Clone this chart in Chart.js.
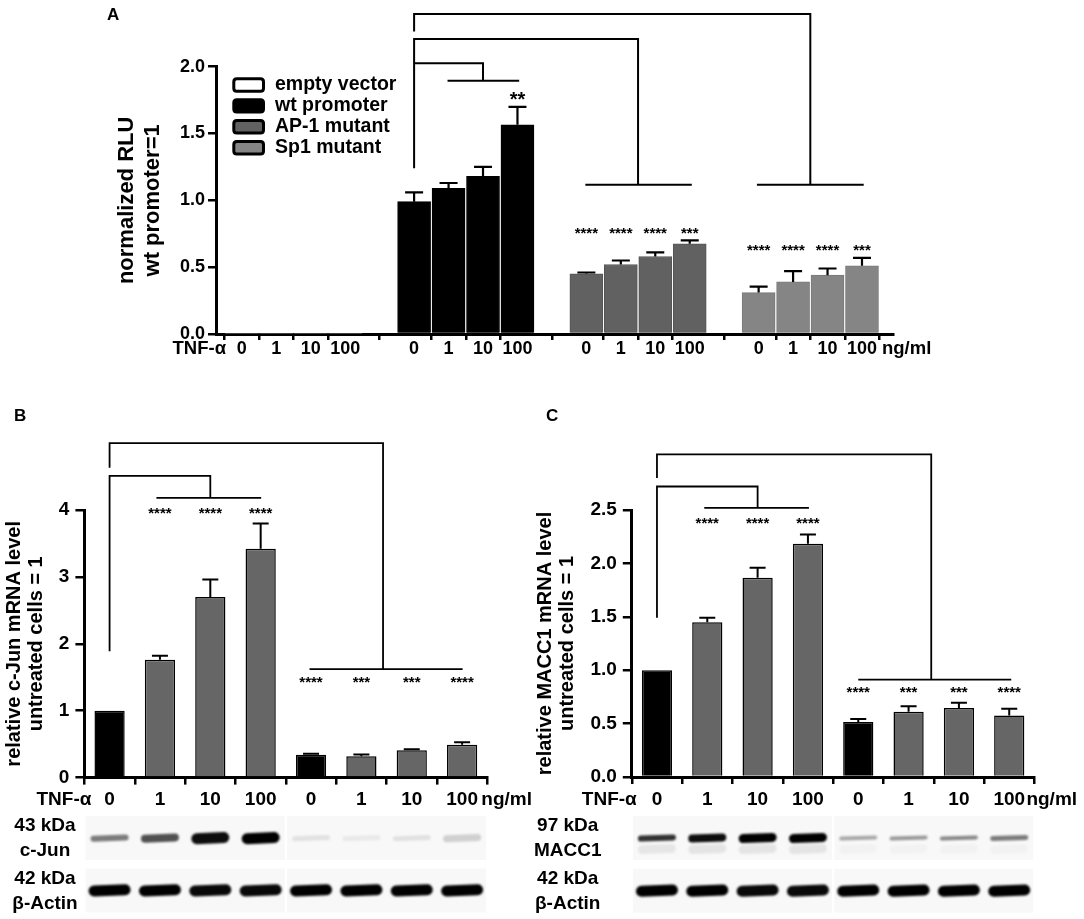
<!DOCTYPE html>
<html>
<head>
<meta charset="utf-8">
<title>TNF-alpha / c-Jun / MACC1</title>
<script src="https://cdn.jsdelivr.net/npm/chart.js@4.4.0/dist/chart.umd.min.js"></script>
<style>
  body { margin: 0; background: #fff; }
  .panel { position: absolute; }
  .panel canvas { display: block; }
  #boxA { left: 0; top: 0; width: 1084px; height: 370px; }
  #boxB { left: 0; top: 370px; width: 540px; height: 549px; }
  #boxC { left: 520px; top: 370px; width: 564px; height: 549px; }
</style>
</head>
<body>
<div class="panel" id="boxA"><canvas id="chartA"></canvas></div>
<div class="panel" id="boxB"><canvas id="chartB"></canvas></div>
<div class="panel" id="boxC"><canvas id="chartC"></canvas></div>

<script>
// ---------- donnees panneau A (luciferase) ----------
const dosesA = ['0', '1', '10', '100'];
const groupNamesA = ['empty vector', 'wt promoter', 'AP-1 mutant', 'Sp1 mutant'];
const emptyVector = [0, 0, 0, 0];
const wtPromoter = [0.99, 1.09, 1.18, 1.565];
const wtPromoterErr = [0.07, 0.04, 0.07, 0.135];
const ap1Mutant = [0.45, 0.52, 0.58, 0.675];
const ap1MutantErr = [0.01, 0.03, 0.03, 0.025];
const sp1Mutant = [0.31, 0.39, 0.44, 0.51];
const sp1MutantErr = [0.045, 0.08, 0.05, 0.06];
const starsWt = ['', '', '', '**'];
const starsAp1 = ['****', '****', '****', '***'];
const starsSp1 = ['****', '****', '****', '***'];
const starLevelA = [0, 1.75, 0.75, 0.62];
const yTicksA = [0, 0.5, 1.0, 1.5, 2.0];
// comparaisons (unites de donnees : position de barre, valeur y)
const bracketsA = [
  { from: 5, to: 16.5, top: 2.395, leftDrop: 2.2625, rightDrop: 1.1175, span: [14.95, 18.05] },
  { from: 5, to: 11.5, top: 2.2075, leftDrop: 1.24, rightDrop: 1.1175, span: [9.97, 13.06] },
  { from: 5, to: 7, top: 2.025, leftDrop: null, rightDrop: 1.895, span: [5.97, 8.05] }
];

// ---------- donnees panneaux B et C (qPCR + western) ----------
const dosesBC = ['0', '1', '10', '100', '0', '1', '10', '100'];
const cJun = [1.0, 1.76, 2.70, 3.42, 0.34, 0.32, 0.41, 0.49];
const cJunErr = [0, 0.06, 0.26, 0.38, 0.015, 0.025, 0.015, 0.04];
const cJunStars = ['', '****', '****', '****', '****', '***', '***', '****'];
const cJunStarLevel = [0, 3.94, 3.94, 3.94, 1.42, 1.42, 1.42, 1.42];
const yTicksB = [0, 1, 2, 3, 4];
const bracketsB = [
  { from: 0, to: 5.43, top: 5.0, leftDrop: 4.63, rightDrop: 1.62, span: [3.97, 7.01] },
  { from: 0, to: 2.0, top: 4.51, leftDrop: 1.89, rightDrop: 4.18, span: [0.93, 3.01] }
];

const macc1 = [1.0, 1.45, 1.865, 2.185, 0.515, 0.612, 0.645, 0.576];
const macc1Err = [0, 0.04, 0.095, 0.085, 0.028, 0.05, 0.05, 0.063];
const macc1Stars = ['', '****', '****', '****', '****', '***', '***', '****'];
const macc1StarLevel = [0, 2.37, 2.37, 2.37, 0.786, 0.786, 0.786, 0.786];
const yTicksC = [0, 0.5, 1.0, 1.5, 2.0, 2.5];
const bracketsC = [
  { from: 0, to: 5.45, top: 3.02, leftDrop: 2.80, rightDrop: 0.912, span: [4.0, 7.04] },
  { from: 0, to: 2.0, top: 2.72, leftDrop: 1.49, rightDrop: 2.52, span: [0.94, 3.02] }
];

// intensites des bandes (western blot), par piste
const cJunBand = [0.5, 0.68, 0.95, 1.0, 0.09, 0.06, 0.09, 0.16];
const cJunBandH = [6, 8, 11, 11, 5, 5, 5, 7];
const actinBandB = [1, 1, 0.97, 0.97, 1, 1, 1, 1];
const macc1Band = [0.8, 0.95, 1.0, 1.0, 0.32, 0.38, 0.45, 0.5];
const macc1BandH = [6, 8, 9, 9, 4, 4, 4, 5];
const macc1Smear = [0.07, 0.08, 0.08, 0.08, 0.025, 0.025, 0.025, 0.025];
const actinBandC = [1, 1, 0.97, 0.97, 1, 1, 1, 1];

// ---------- style ----------
const FONT = "'Liberation Sans', Arial, Helvetica, sans-serif";
Chart.defaults.font.family = FONT;
Chart.defaults.color = '#000';
Chart.defaults.animation = false;

const fillA = ['#ffffff', '#000000', '#616161', '#858585'];
const edgeA = ['#ffffff', '#000000', '#555555', '#7a7a7a'];
const toneBC = ['#000000', '#666666', '#666666', '#666666', '#000000', '#666666', '#666666', '#666666'];

function boxPath(ctx, x, y, w, h, r) {
  ctx.beginPath();
  ctx.moveTo(x + r, y);
  ctx.lineTo(x + w - r, y); ctx.quadraticCurveTo(x + w, y, x + w, y + r);
  ctx.lineTo(x + w, y + h - r); ctx.quadraticCurveTo(x + w, y + h, x + w - r, y + h);
  ctx.lineTo(x + r, y + h); ctx.quadraticCurveTo(x, y + h, x, y + h - r);
  ctx.lineTo(x, y + r); ctx.quadraticCurveTo(x, y, x + r, y);
  ctx.closePath();
}

function drawBracket(ctx, xs, ys, b) {
  const xl = xs.getPixelForValue(b.from), xr = xs.getPixelForValue(b.to);
  const yt = ys.getPixelForValue(b.top), yb = ys.getPixelForValue(b.rightDrop);
  ctx.beginPath();
  if (b.leftDrop !== null) {
    ctx.moveTo(xl, ys.getPixelForValue(b.leftDrop));
    ctx.lineTo(xl, yt);
  } else {
    ctx.moveTo(xl, yt);
  }
  ctx.lineTo(xr, yt);
  ctx.lineTo(xr, yb);
  ctx.moveTo(xs.getPixelForValue(b.span[0]), yb);
  ctx.lineTo(xs.getPixelForValue(b.span[1]), yb);
  ctx.stroke();
}

// barres d'erreur, etoiles, crochets + extras
function makeMarks(cfg) {
  return {
    id: 'marks' + cfg.name,
    afterDatasetsDraw(chart) {
      const ctx = chart.ctx, xs = chart.scales.x, ys = chart.scales.y;
      ctx.save();
      ctx.strokeStyle = '#000';
      ctx.fillStyle = '#000';
      cfg.errors.forEach((errs, di) => {
        if (!errs) return;
        const meta = chart.getDatasetMeta(di);
        meta.data.forEach((bar, i) => {
          if (!errs[i]) return;
          const raw = chart.data.datasets[di].data[i];
          const v = typeof raw === 'object' ? raw.y : raw;
          const top = ys.getPixelForValue(v + errs[i]);
          ctx.lineWidth = cfg.errWidth;
          ctx.beginPath();
          ctx.moveTo(bar.x, bar.y);
          ctx.lineTo(bar.x, top);
          ctx.moveTo(bar.x - cfg.cap / 2, top);
          ctx.lineTo(bar.x + cfg.cap / 2, top);
          ctx.stroke();
        });
      });
      ctx.textAlign = 'center';
      ctx.textBaseline = 'middle';
      cfg.stars.forEach((row, di) => {
        if (!row) return;
        const meta = chart.getDatasetMeta(di);
        row.labels.forEach((s, i) => {
          if (!s) return;
          ctx.font = (s.length === 2 ? 'bold 20px ' : 'bold 15px ') + FONT;
          ctx.fillText(s, meta.data[i].x, ys.getPixelForValue(row.level[i]));
        });
      });
      ctx.lineWidth = cfg.bracketWidth;
      cfg.brackets.forEach(b => drawBracket(ctx, xs, ys, b));
      ctx.restore();
    },
    afterDraw(chart) {
      cfg.extra(chart);
    }
  };
}

function axisLabels(chart, o) {
  const ctx = chart.ctx, a = chart.chartArea;
  ctx.save();
  ctx.fillStyle = '#000';
  ctx.font = 'bold ' + o.size + 'px ' + FONT;
  ctx.textBaseline = 'middle';
  ctx.textAlign = 'right';
  ctx.fillText('TNF-\u03b1', a.left + o.tnfDX, a.bottom + o.dy);
  ctx.textAlign = 'left';
  ctx.fillText('ng/ml', a.right + o.ngDX, a.bottom + o.dy);
  ctx.font = 'bold 17px ' + FONT;
  ctx.fillText(o.letter, o.letterX, o.letterY);
  ctx.restore();
}

function band(ctx, cx, cy, w, h, a) {
  ctx.save();
  ctx.filter = 'blur(1.3px)';
  ctx.strokeStyle = 'rgba(0,0,0,' + a + ')';
  ctx.lineWidth = h;
  ctx.lineCap = 'round';
  ctx.beginPath();
  ctx.moveTo(cx - w / 2 + h / 2, cy + 0.6);
  ctx.lineTo(cx + w / 2 - h / 2, cy - 0.6);
  ctx.stroke();
  ctx.restore();
}

function drawBlot(chart, rows, labelDX) {
  const ctx = chart.ctx, xs = chart.scales.x, a = chart.chartArea;
  rows.forEach(r => {
    const cy = a.bottom + r.dy;
    ctx.save();
    ctx.fillStyle = '#f8f8f8';
    [0, 4].forEach(g => {
      const x0 = xs.getPixelForValue(g) - 24, x1 = xs.getPixelForValue(g + 3) + 24;
      ctx.fillRect(x0, cy - 22, x1 - x0, 44);
    });
    ctx.restore();
    if (r.smear) {
      r.smear.forEach((v, i) => band(ctx, xs.getPixelForValue(i), cy + 11, r.w, 9, v));
    }
    r.bands.forEach((v, i) => {
      band(ctx, xs.getPixelForValue(i), cy, r.w, r.h[i], v);
    });
    ctx.save();
    ctx.fillStyle = '#000';
    ctx.font = 'bold 19px ' + FONT;
    ctx.textAlign = 'center';
    ctx.textBaseline = 'middle';
    ctx.fillText(r.labels[0], a.left + labelDX, cy - 12);
    ctx.fillText(r.labels[1], a.left + labelDX, cy + 13);
    ctx.restore();
  });
}

const axisStyle = (tickLength) => ({
  grid: { drawOnChartArea: false, drawTicks: true, tickLength: tickLength, color: '#000', lineWidth: 2.5 },
  border: { display: true, color: '#000', width: 3 }
});

// ---------- panneau A ----------
const seriesA = [emptyVector, wtPromoter, ap1Mutant, sp1Mutant];
const slotA = (g, k) => g * 5 + k;
const slotsA = [];
seriesA.forEach((vals, g) => vals.forEach((v, k) => slotsA.push(slotA(g, k))));

new Chart(document.getElementById('chartA'), {
  type: 'bar',
  data: {
    datasets: seriesA.map((vals, g) => ({
      label: groupNamesA[g],
      data: vals.map((v, k) => ({ x: slotA(g, k), y: v })),
      backgroundColor: fillA[g],
      borderColor: edgeA[g],
      borderWidth: g === 0 ? 0 : 1,
      grouped: false,
      barThickness: 33
    }))
  },
  options: {
    responsive: true,
    maintainAspectRatio: false,
    layout: { padding: { left: 0, right: 191, top: 66.7, bottom: 6 } },
    plugins: { legend: { display: false }, tooltip: { enabled: false } },
    scales: {
      x: Object.assign({
        type: 'linear',
        offset: false,
        min: -0.75,
        max: 18.9,
        afterBuildTicks: s => { s.ticks = slotsA.map(v => ({ value: v })); },
        ticks: {
          callback: (v, i) => dosesA[i % 4],
          font: { size: 18, weight: 'bold', lineHeight: 1 },
          color: '#000', padding: 0, maxRotation: 0, autoSkip: false
        },
        afterFit: s => { s.height = 30; }
      }, axisStyle(6)),
      y: Object.assign({
        min: 0,
        max: 2,
        afterBuildTicks: s => { s.ticks = yTicksA.map(v => ({ value: v })); },
        ticks: { callback: v => v.toFixed(1), font: { size: 18, weight: 'bold' }, color: '#000', padding: 3 },
        title: {
          display: true,
          text: ['normalized RLU', 'wt promoter=1'],
          font: { size: 22, weight: 'bold', lineHeight: 1.2 },
          color: '#000',
          padding: { top: 113.8, bottom: 0 }
        },
        afterFit: s => { s.width = 216; }
      }, axisStyle(8))
    }
  },
  plugins: [makeMarks({
    name: 'A',
    errors: [null, wtPromoterErr, ap1MutantErr, sp1MutantErr],
    errWidth: 2.2,
    cap: 18,
    stars: [null,
      { labels: starsWt, level: starsWt.map(() => starLevelA[1]) },
      { labels: starsAp1, level: starsAp1.map(() => starLevelA[2]) },
      { labels: starsSp1, level: starsSp1.map(() => starLevelA[3]) }],
    bracketWidth: 2,
    brackets: bracketsA,
    extra(chart) {
      const ctx = chart.ctx, a = chart.chartArea;
      ctx.save();
      chart.data.datasets.forEach((ds, g) => {
        const cy = a.top + 18.3 + g * 20.9;
        boxPath(ctx, a.left + 17.8, cy - 6.2, 29.7, 12.4, 3);
        ctx.fillStyle = ds.backgroundColor;
        ctx.fill();
        ctx.lineWidth = 3;
        ctx.strokeStyle = '#000';
        ctx.stroke();
        ctx.fillStyle = '#000';
        ctx.font = 'bold 19.5px ' + FONT;
        ctx.textAlign = 'left';
        ctx.textBaseline = 'middle';
        ctx.fillText(ds.label, a.left + 59, cy);
      });
      ctx.restore();
      axisLabels(chart, { size: 18.5, tnfDX: 10, ngDX: -11, dy: 14.5, letter: 'A', letterX: 107, letterY: 15 });
    }
  })]
});

// ---------- panneaux B et C ----------
function qpcrChart(id, cfg) {
  return new Chart(document.getElementById(id), {
    type: 'bar',
    data: {
      labels: dosesBC,
      datasets: [{
        data: cfg.values,
        backgroundColor: toneBC,
        borderColor: '#000',
        borderWidth: 1.5,
        barPercentage: 0.6,
        categoryPercentage: 1
      }]
    },
    options: {
      responsive: true,
      maintainAspectRatio: false,
      layout: { padding: cfg.padding },
      plugins: { legend: { display: false }, tooltip: { enabled: false } },
      scales: {
        x: Object.assign({
          ticks: { font: { size: 19, weight: 'bold', lineHeight: 1.2 }, color: '#000', padding: 4, maxRotation: 0, autoSkip: false },
          afterFit: s => { s.height = 30; }
        }, axisStyle(7)),
        y: Object.assign({
          min: 0,
          max: cfg.yTicks[cfg.yTicks.length - 1],
          afterBuildTicks: s => { s.ticks = cfg.yTicks.map(v => ({ value: v })); },
          ticks: { callback: cfg.fmt, font: { size: 19, weight: 'bold' }, color: '#000', padding: 6 },
          title: {
            display: true,
            text: cfg.title,
            font: { size: 20, weight: 'bold', lineHeight: 1.1 },
            color: '#000',
            padding: { top: cfg.titlePad, bottom: 0 }
          },
          afterFit: s => { s.width = cfg.yWidth; }
        }, axisStyle(9))
      }
    },
    plugins: [makeMarks({
      name: id,
      errors: [cfg.errors],
      errWidth: 2,
      cap: 16,
      stars: [{ labels: cfg.stars, level: cfg.starLevel }],
      bracketWidth: 1.8,
      brackets: cfg.brackets,
      extra(chart) {
        axisLabels(chart, { size: 19, tnfDX: cfg.tnfDX, ngDX: cfg.ngDX, dy: 22.5, letter: cfg.letter, letterX: cfg.letterX, letterY: 46.7 });
        drawBlot(chart, cfg.blot, cfg.labelDX);
      }
    })]
  });
}

qpcrChart('chartB', {
  values: cJun,
  errors: cJunErr,
  stars: cJunStars,
  starLevel: cJunStarLevel,
  brackets: bracketsB,
  yTicks: yTicksB,
  fmt: v => String(v),
  title: ['relative c-Jun mRNA level', 'untreated cells = 1'],
  titlePad: 3.6,
  yWidth: 84.4,
  padding: { left: 0, right: 52.7, top: 140, bottom: 111.4 },
  tnfDX: 7, ngDX: -6, letter: 'B', letterX: 14, labelDX: -39.4,
  blot: [
    { labels: ['43 kDa', 'c-Jun'], bands: cJunBand, h: cJunBandH, w: 38, dy: 60.5 },
    { labels: ['42 kDa', '\u03b2-Actin'], bands: actinBandB, h: actinBandB.map(() => 11), w: 42, dy: 112.8 }
  ]
});

qpcrChart('chartC', {
  values: macc1,
  errors: macc1Err,
  stars: macc1Stars,
  starLevel: macc1StarLevel,
  brackets: bracketsC,
  yTicks: yTicksC,
  fmt: v => v.toFixed(1),
  title: ['relative MACC1 mRNA level', 'untreated cells = 1'],
  titlePad: 14,
  yWidth: 111.8,
  padding: { left: 0, right: 49.6, top: 140, bottom: 112 },
  tnfDX: 5, ngDX: -8, letter: 'C', letterX: 26, labelDX: -64.1,
  blot: [
    { labels: ['97 kDa', 'MACC1'], bands: macc1Band, h: macc1BandH, w: 38, dy: 61, smear: macc1Smear },
    { labels: ['42 kDa', '\u03b2-Actin'], bands: actinBandC, h: actinBandC.map(() => 11), w: 42, dy: 113.7 }
  ]
});
</script>
</body>
</html>
